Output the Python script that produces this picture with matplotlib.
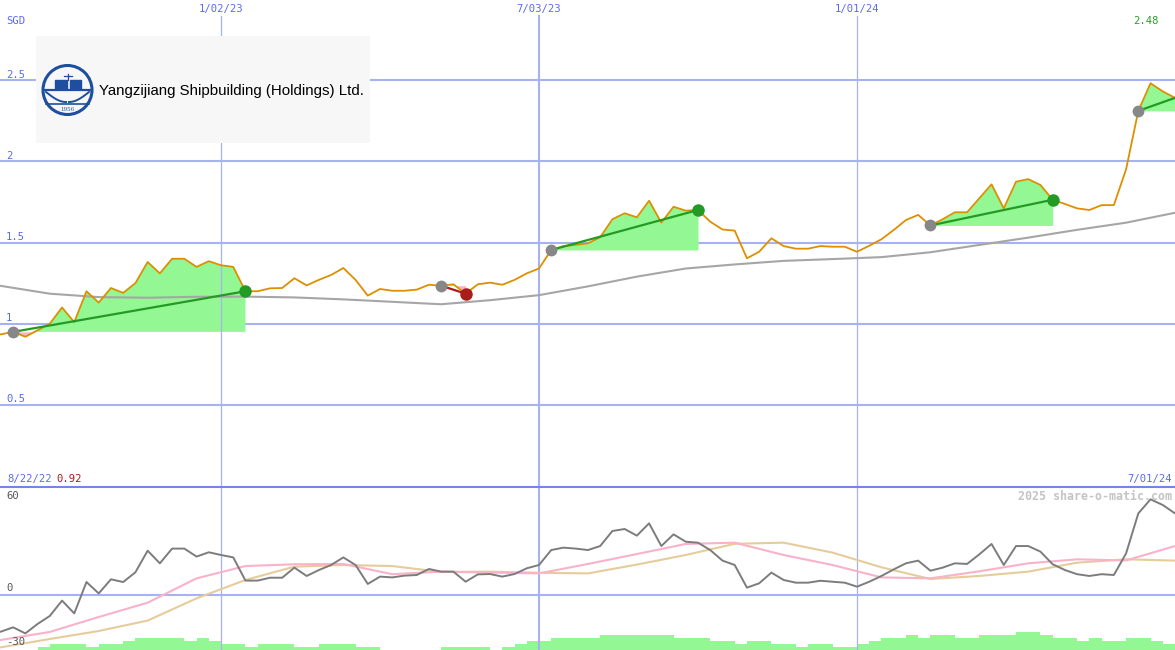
import matplotlib
matplotlib.use('Agg')
import matplotlib.pyplot as plt
import matplotlib.patches as mpatches
from matplotlib.lines import Line2D
import numpy as np
import pandas as pd

# ---------------- data ----------------
start_date = '2022-08-29'          # weekly samples
price = [0.935, 0.95, 0.92, 0.96, 1.00, 1.10, 1.01, 1.20, 1.13, 1.22,
         1.19, 1.25, 1.38, 1.31, 1.40, 1.40, 1.35, 1.385, 1.36, 1.35,
         1.20, 1.20, 1.218, 1.22, 1.28, 1.236, 1.27, 1.30, 1.343, 1.27,
         1.173, 1.214, 1.203, 1.203, 1.21, 1.24, 1.234, 1.243, 1.185, 1.243,
         1.253, 1.24, 1.27, 1.31, 1.34, 1.454, 1.478, 1.485, 1.495, 1.532,
         1.643, 1.68, 1.655, 1.757, 1.622, 1.72, 1.696, 1.70, 1.628, 1.58,
         1.573, 1.403, 1.443, 1.526, 1.478, 1.462, 1.462, 1.478, 1.474, 1.474,
         1.443, 1.48, 1.52, 1.577, 1.638, 1.67, 1.605, 1.643, 1.686, 1.686,
         1.772, 1.858, 1.71, 1.874, 1.89, 1.854, 1.763, 1.737, 1.71, 1.70,
         1.73, 1.73, 1.95, 2.31, 2.48, 2.43, 2.39]

ma_weeks = list(range(0, 97, 4))
ma_values = [1.233, 1.185, 1.164, 1.16, 1.166, 1.167, 1.162, 1.15, 1.135, 1.12,
             1.145, 1.176, 1.23, 1.29, 1.34, 1.365, 1.387, 1.398, 1.41, 1.44,
             1.485, 1.53, 1.578, 1.622, 1.683]

osc = [-22.9, -20.2, -24, -18.1, -13.1, -3.5, -11.5, 8.1, 1, 9.8,
       8.1, 14.2, 27.7, 19.8, 29, 29, 24, 26.7, 25, 23.5,
       9, 9, 10.8, 10.8, 17.1, 11.9, 15.6, 18.75, 23.5, 18.75,
       6.9, 11.5, 11, 12.1, 12.5, 16.25, 14.6, 14.6, 8.3, 12.9,
       13.1, 11.5, 13.1, 16.7, 18.75, 28.1, 29.6, 29, 28.1, 30.6,
       40, 41.25, 37.1, 44.8, 30.6, 37.9, 33.3, 32.7, 28.1, 21.5,
       18.75, 4.6, 7.3, 14, 9.4, 7.7, 7.7, 8.9, 8.3, 7.7,
       5.2, 8.3, 11.9, 16, 19.8, 21.5, 15.2, 17.1, 19.8, 19.4,
       25.4, 31.9, 18.75, 30.6, 30.6, 27.1, 19.2, 15.6, 13, 11.9,
       13, 12.5, 26, 51, 59.8, 56.25, 51]

smooth_weeks = list(range(0, 97, 4))
pink_values = [-28.1, -23.1, -13.75, -4.8, 10.4, 18.1, 19.2, 19.4, 13, 14.6,
               14, 13.5, 19.4, 25.6, 31.9, 32.7, 25, 18.75, 11, 10.4,
               14.8, 19.8, 22.3, 21.6, 30.6]
tan_values = [-32.7, -27.5, -22.5, -16, -2.1, 9.4, 17.7, 18.75, 18.1, 14.4,
              14.6, 13.9, 13.5, 19, 25, 32, 32.7, 26.5, 17.3, 10,
              11.9, 14.6, 20.2, 22.3, 21.5]

volume = [0, 0, 0, 1, 2, 2, 2, 1, 2, 2,
          3, 4, 4, 4, 4, 3, 4, 3, 2, 2,
          1, 2, 2, 2, 1, 1, 2, 2, 2, 1,
          1, 0, 0, 0, 0, 0, 1, 1, 1, 1,
          0, 1, 2, 3, 3, 4, 4, 4, 4, 5,
          5, 5, 5, 5, 5, 4, 4, 4, 3, 3,
          2, 3, 3, 2, 2, 1, 2, 2, 1, 1,
          2, 3, 4, 4, 5, 4, 5, 5, 4, 4,
          5, 5, 5, 6, 6, 5, 4, 4, 3, 4,
          3, 3, 4, 4, 3, 2, 2]

trend_start = [1, 36, 45, 76, 93]
trend_end = [20, 38, 57, 86, 96]
trend_result = ['up', 'down', 'up', 'up', 'open']

price_ticks = [0.5, 1, 1.5, 2, 2.5]
price_tick_labels = ['0.5', '1', '1.5', '2', '2.5']
osc_ticks = [60, 0, -30]
date_lines = ['2023-01-02', '2023-07-03', '2024-01-01']
date_labels = ['1/02/23', '7/03/23', '1/01/24']
first_label = '8/22/22'
last_label = '7/01/24'
min_label = '0.92'
max_label = '2.48'
company = 'Yangzijiang Shipbuilding (Holdings) Ltd.'

# ---------------- style ----------------
W, H = 1175, 650
BLUE_TXT = '#5a6af2'
GRID = '#a6b2f2'
SEP = '#7484ea'
ORANGE = '#dc9000'
FILL_G = '#93f893'
FILL_R = '#f8b4c4'
GREEN = '#239a23'
RED = '#a81c1c'
GREY_DOT = '#878787'
MONO = 'DejaVu Sans Mono'

dates = pd.date_range(start_date, periods=len(price), freq='7D')
price_a = np.array(price)
x_left = pd.Timestamp('2022-08-28 12:00')
x_right = pd.Timestamp('2024-07-01')

fig = plt.figure(figsize=(W / 100, H / 100), dpi=100)
fig.patch.set_facecolor('white')


def fpos(x, y):
    return x / W, 1 - y / H


split = 487
ax1 = fig.add_axes([0, (H - split) / H, 1, split / H])
ax2 = fig.add_axes([0, 0, 1, (H - split) / H])
for ax in (ax1, ax2):
    ax.set_xlim(x_left, x_right)
    ax.set_xticks([])
    ax.set_yticks([])
    for s in ax.spines.values():
        s.set_visible(False)
    ax.patch.set_visible(False)

# price axis: 162.5 px per 1.0, 2.5 at pixel 80
ppu = 162.5
ax1.set_ylim(2.5 - (split - 80) / ppu, 2.5 + 80 / ppu)
for t in price_ticks:
    ax1.axhline(t, color=GRID, lw=1.5, zorder=1)
top_frac = (split - 16) / split
for d, lab in zip(date_lines, date_labels):
    lw = 1.5 if d == '2023-07-03' else 0.9
    ax1.axvline(pd.Timestamp(d), ymin=0, ymax=top_frac, color=GRID, lw=lw, zorder=3)
    ax2.axvline(pd.Timestamp(d), color=GRID, lw=lw, zorder=1)

# trend fills
for s, e, res in zip(trend_start, trend_end, trend_result):
    seg_d = dates[s:e + 1]
    seg_p = price_a[s:e + 1]
    base = price_a[s]
    ax1.fill_between(seg_d, seg_p, base, where=seg_p >= base, interpolate=True,
                     color=FILL_G, lw=0, zorder=2)
    ax1.fill_between(seg_d, seg_p, base, where=seg_p < base, interpolate=True,
                     color=FILL_R, lw=0, zorder=2)

# moving average
ax1.plot(dates[ma_weeks], ma_values, color='#a6a6a6', lw=1.5, zorder=4)
# price
ax1.plot(dates, price_a, color=ORANGE, lw=1.3, zorder=5)

# trend lines and dots
for s, e, res in zip(trend_start, trend_end, trend_result):
    col = RED if res == 'down' else GREEN
    ax1.plot([dates[s], dates[e]], [price_a[s], price_a[e]], color=col, lw=1.6, zorder=6)
    ax1.plot(dates[s], price_a[s], 'o', color=GREY_DOT, ms=8.5, mew=0, zorder=7)
    if res != 'open':
        ax1.plot(dates[e], price_a[e], 'o', color=col, ms=9, mew=0, zorder=7)

# lower panel: 1.6 px per unit, 0 at pixel 595
opu = 1.6
ax2.set_ylim((595 - H) / opu, (595 - split) / opu)
ax2.axhline(0, color=GRID, lw=1.5, zorder=1)

ax3 = ax2.twinx()
ax3.set_xlim(x_left, x_right)
ax3.set_ylim(0, (H - split) / 3.0)
ax3.bar(dates, volume, width=7, align='edge', color=FILL_G, lw=0)
ax3.set_xticks([])
ax3.set_yticks([])
for s in ax3.spines.values():
    s.set_visible(False)
ax3.set_zorder(ax2.get_zorder() - 1)

ax2.plot(dates[smooth_weeks], tan_values, color='#e6cc9a', lw=1.5, zorder=3)
ax2.plot(dates[smooth_weeks], pink_values, color='#f9b2c8', lw=1.5, zorder=3)
ax2.plot(dates, osc, color='#7c7c7c', lw=1.4, zorder=4)
ax2.set_zorder(ax3.get_zorder() + 1)

# separator
fig.add_artist(Line2D([0, 1], [1 - 486.5 / H] * 2, color=SEP, lw=1.5,
                      transform=fig.transFigure))

# ---------------- texts ----------------
fs = 7.6
fig.text(*fpos(6, 21), 'SGD', color=BLUE_TXT, fontsize=fs, family=MONO, va='center')
for d, lab in zip(date_lines, date_labels):
    xd = (pd.Timestamp(d) - x_left) / (x_right - x_left) * W
    fig.text(*fpos(xd, 9), lab, color=BLUE_TXT, fontsize=fs, family=MONO,
             ha='center', va='center')
for t, lab in zip(price_ticks, price_tick_labels):
    ypix = 80 + (2.5 - t) * ppu - 5.5
    fig.text(*fpos(6, ypix), lab, color=BLUE_TXT, fontsize=fs, family=MONO, va='center')
fig.text(*fpos(1133, 21), max_label, color='#2a9a2a', fontsize=fs, family=MONO, va='center')
fig.text(*fpos(7, 479), first_label, color=BLUE_TXT, fontsize=fs, family=MONO, va='center')
fig.text(*fpos(56, 479), min_label, color=RED, fontsize=fs, family=MONO, va='center')
fig.text(*fpos(1172, 479), last_label, color=BLUE_TXT, fontsize=fs, family=MONO,
         ha='right', va='center')
fig.text(*fpos(1172, 496), '2025 share-o-matic.com', color='#c4c4c4', fontsize=8.4,
         family=MONO, weight='bold', ha='right', va='center')
for t in osc_ticks:
    ypix = 595 - t * opu - 7
    if t == -30:
        ypix = 642
    if t == 60:
        ypix = 496
    fig.text(*fpos(6, ypix), str(t), color='#555555', fontsize=fs, family=MONO,
             va='center', zorder=0)

# ---------------- logo ----------------
lx0, ly0, lw_, lh_ = 36, 36, 334, 107
lax = fig.add_axes([lx0 / W, 1 - (ly0 + lh_) / H, lw_ / W, lh_ / H])
lax.set_xlim(lx0, lx0 + lw_)
lax.set_ylim(ly0 + lh_, ly0)
lax.set_facecolor('#f7f7f7')
lax.set_xticks([])
lax.set_yticks([])
for s in lax.spines.values():
    s.set_visible(False)
LOGO_BLUE = '#1d4f9e'
lax.add_patch(mpatches.Circle((67.5, 90), 24.5, fill=False, ec=LOGO_BLUE, lw=2.2))
lax.add_patch(mpatches.Rectangle((55, 80), 11.5, 9, color=LOGO_BLUE))
lax.add_patch(mpatches.Rectangle((69.5, 80), 11.5, 9, color=LOGO_BLUE))
lax.plot([44, 91], [90.5, 90.5], color=LOGO_BLUE, lw=1.6)
lax.plot([68, 68], [74, 80], color=LOGO_BLUE, lw=0.9)
lax.plot([64, 72], [76, 76], color=LOGO_BLUE, lw=0.9)
tt = np.linspace(0, 1, 30)
lax.plot(46 + 20 * tt, 92 + 10 * np.sin(tt * np.pi / 2), color=LOGO_BLUE, lw=1.4)
lax.plot(89 - 20 * tt, 92 + 10 * np.sin(tt * np.pi / 2), color=LOGO_BLUE, lw=1.4)
lax.plot([46, 89], [104, 104], color=LOGO_BLUE, lw=1.2)
lax.text(67.5, 109.5, '1956', fontsize=4, color=LOGO_BLUE, ha='center', va='center',
         family='DejaVu Serif')
lax.text(99, 91, company, fontsize=10.85, color='black', family='Liberation Sans',
         ha='left', va='center')

fig.savefig('out.png', dpi=100, facecolor='white')
